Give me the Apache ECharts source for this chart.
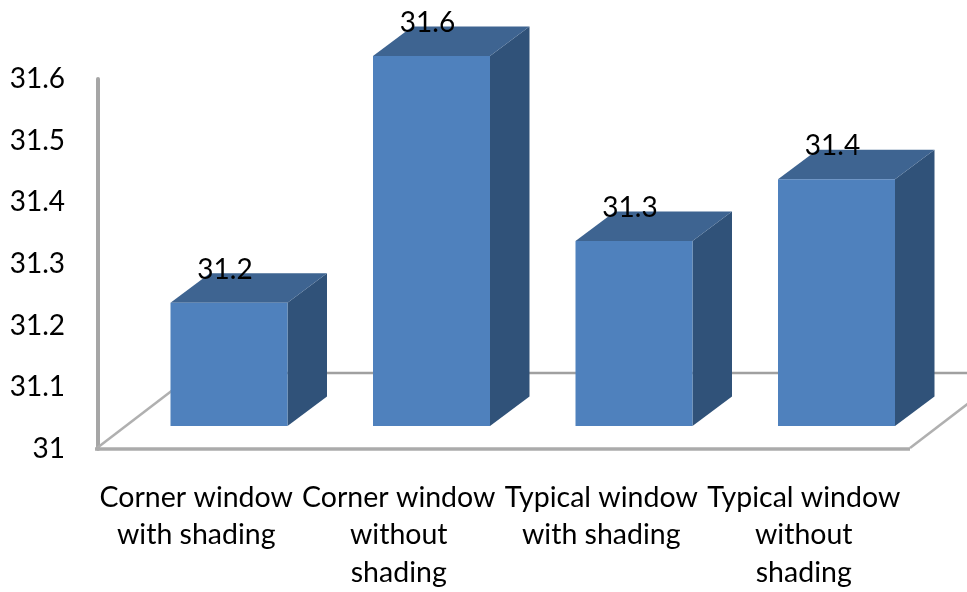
<!DOCTYPE html>
<html>
<head>
<meta charset="utf-8">
<style>html,body{margin:0;padding:0;background:#fff}#c{width:967px;height:592px}</style>
<script src="https://cdn.jsdelivr.net/npm/echarts@6/dist/echarts.min.js"></script>
</head>
<body>
<div id="c"></div>
<script>
const categories = ['Corner window\nwith shading', 'Corner window\nwithout\nshading', 'Typical window\nwith shading', 'Typical window\nwithout\nshading'];
const values = [31.2, 31.6, 31.3, 31.4];
const axisMin = 31, axisMax = 31.6, axisStep = 0.1;

const FONT = 'Lato';
const barW = 117, barShift = 32.75, lift = 23, dx = 39.5, dy = 29.5;

const chart = echarts.init(document.getElementById('c'), null, {renderer: 'canvas'});

function renderFloor(params, api) {
  const o = api.coord([0, axisMin]);
  const y = o[1];
  const L = 97, R = 910, bx = 98, by = 76;
  const line = (x1, y1, x2, y2, stroke, w) => ({
    type: 'line', shape: {x1, y1, x2, y2}, style: {stroke, lineWidth: w}
  });
  return {type: 'group', children: [
    line(L, y - 1, L + bx, y - by, '#b0b0b0', 2.5),
    line(R, y - 1, R + bx, y - by, '#b0b0b0', 2.5),
    line(L + bx, y - by, R + bx, y - by, '#a0a0a0', 2.5),
    line(L - 2, y, R, y, '#ababab', 3.5)
  ]};
}

function renderBar(params, api) {
  const top = api.coord([api.value(0), api.value(1)]);
  const base = api.coord([api.value(0), axisMin]);
  const x0 = top[0] + barShift - barW / 2, x1 = x0 + barW;
  const yT = top[1] - lift, yB = base[1] - lift;
  return {type: 'group', children: [
    {type: 'polygon', shape: {points: [[x1, yT], [x1 + dx, yT - dy], [x1 + dx, yB - dy], [x1, yB]]},
      style: {fill: '#305279'}},
    {type: 'polygon', shape: {points: [[x0, yT], [x0 + dx, yT - dy], [x1 + dx, yT - dy], [x1, yT]]},
      style: {fill: '#3e6491'}},
    {type: 'rect', shape: {x: x0, y: yT, width: barW, height: yB - yT},
      style: {fill: '#4f81bd'}},
    {type: 'text', x: top[0] + barShift - 4, y: yT - 33,
      style: {text: String(api.value(1)), fill: '#000', font: '28px ' + FONT, align: 'center', verticalAlign: 'middle'}}
  ]};
}

chart.setOption({
  animation: false,
  backgroundColor: '#fff',
  grid: {left: 95, width: 810, top: 79, height: 370},
  xAxis: {
    type: 'category', data: categories,
    axisLine: {show: false}, axisTick: {show: false},
    axisLabel: {interval: 0, color: '#000', fontFamily: FONT, fontSize: 28.5, lineHeight: 37.5, margin: 30, align: 'center'}
  },
  yAxis: {
    type: 'value', min: axisMin, max: axisMax, interval: axisStep, offset: -3,
    splitLine: {show: false}, axisTick: {show: false},
    axisLine: {show: true, lineStyle: {color: '#a6a6a6', width: 4}},
    axisLabel: {color: '#000', fontFamily: FONT, fontSize: 28, margin: 33,
      formatter: v => String(Math.round(v * 10) / 10)}
  },
  series: [
    {type: 'custom', z: 1, data: [[0, axisMin]], encode: {x: 0, y: 1}, renderItem: renderFloor, silent: true},
    {type: 'custom', z: 2, data: values.map((v, i) => [i, v]), encode: {x: 0, y: 1}, renderItem: renderBar}
  ]
});
</script>
</body>
</html>
